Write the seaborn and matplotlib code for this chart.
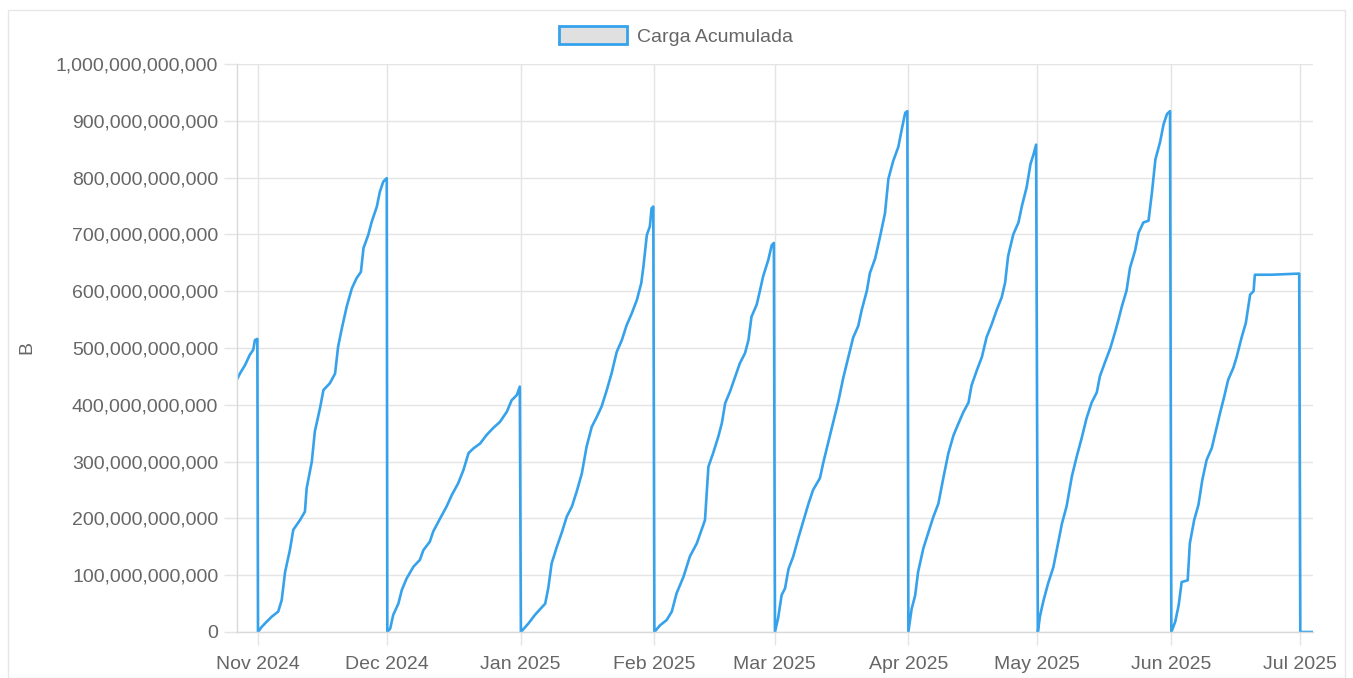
import numpy as np
import pandas as pd
import matplotlib
matplotlib.use("Agg")
import matplotlib.pyplot as plt
import matplotlib.ticker as mticker
from matplotlib.patches import Patch, Rectangle
import seaborn as sns

# values: days since the 1st of each month, load in billions
oct_days = [26.15, 26.8, 28.0, 29.1, 29.9, 30.3, 30.85]
oct_vals = [445, 455, 470, 488, 497, 514, 516]

nov_days = [0, 0.86, 2, 3.2, 4.7, 5.5, 6.3, 7.4, 8.2, 9.75, 10.9, 11.3, 12.5, 13.2, 14.4, 15.2,
            16.7, 17.9, 18.6, 19.4, 20.6, 21.8, 22.9, 23.9, 24.5, 25.6, 26.4, 27.6, 28.3, 29.1, 29.9]
nov_vals = [0, 9, 18, 27, 36, 56, 106, 144, 180, 197, 212, 253, 300, 353, 394, 426,
            438, 455, 502, 532, 573, 605, 623, 634, 676, 699, 722, 749, 775, 793, 799]

dec_days = [0.03, 0.7, 1.4, 2.6, 3.4, 4.5, 6.1, 7.6, 8.4, 9.9, 10.7, 12.3, 13.8, 15, 16.5, 17.7,
            18.9, 20, 21.6, 23.1, 24.6, 26.2, 27.8, 28.9, 30.1, 30.8]
dec_vals = [0, 6, 30, 50, 74, 94, 115, 127, 144, 159, 177, 200, 221, 241, 262, 285,
            315, 323, 332, 347, 359, 370, 388, 408, 417, 432]

jan_days = [0.05, 1.8, 3.3, 5.7, 6.4, 7.2, 8.4, 9.5, 10.7, 11.9, 13, 14.2, 15.3, 16.5, 17.7,
            18.8, 20, 21.1, 22.3, 23.5, 24.6, 25.8, 27, 28, 28.5, 29.3, 30, 30.4, 30.8]
jan_vals = [0, 15, 30, 50, 77, 121, 150, 174, 203, 221, 247, 279, 326, 361, 379,
            397, 426, 455, 493, 514, 540, 561, 585, 614, 643, 699, 714, 746, 749]

feb_days = [0.05, 1.4, 2.9, 4.1, 5.2, 6.8, 8.3, 9.9, 11, 11.8, 12.6, 13.7, 14.9, 15.7, 16.5,
            17.6, 18.8, 19.9, 21.1, 21.9, 22.6, 23.8, 24.6, 25.3, 26.5, 27.3, 27.8]
feb_vals = [0, 12, 21, 36, 68, 97, 133, 156, 180, 197, 291, 315, 344, 367, 403,
            423, 449, 473, 491, 514, 555, 576, 602, 626, 655, 681, 685]

mar_days = [0.05, 0.8, 1.6, 2.4, 3.2, 4.3, 5.5, 6.6, 7.8, 8.9, 10.5, 11.3, 12.4, 13.6, 14.8,
            15.9, 17.1, 18.2, 19.4, 20.2, 21.4, 22.1, 23.3, 24.4, 25.6, 26.4, 27.5, 28.7,
            29.5, 30.3, 30.8]
mar_vals = [0, 25, 65, 77, 111, 133, 166, 194, 225, 250, 271, 299, 333, 370, 407,
            447, 484, 518, 539, 567, 601, 632, 657, 694, 737, 798, 829, 854,
            885, 914, 917]

apr_days = [0.03, 0.8, 1.6, 2.3, 3.5, 4.7, 5.8, 7, 8.2, 9.3, 10.5, 11.6, 12.8, 14, 14.7,
            15.9, 17.1, 18.2, 19.4, 20.5, 21.7, 22.5, 23.2, 24.4, 25.6, 26.4, 27.5, 28.4,
            29.1, 29.7]
apr_vals = [0, 41, 64, 106, 147, 176, 202, 226, 273, 314, 346, 366, 387, 404, 434,
            460, 484, 519, 542, 566, 589, 615, 662, 700, 721, 750, 783, 824,
            841, 858]

may_days = [0.1, 0.6, 1.4, 2.5, 3.7, 4.5, 5.7, 6.8, 8, 9.1, 10.3, 11.4, 12.6, 13.8, 14.5,
            15.7, 16.9, 18, 18.8, 19.6, 20.7, 21.5, 22.7, 23.5, 24.6, 25.8, 26.6, 27.4,
            28.5, 29.3, 30.1, 30.8]
may_vals = [0, 28, 55, 86, 114, 145, 191, 222, 274, 308, 342, 376, 404, 422, 450,
            475, 499, 527, 549, 573, 601, 641, 672, 703, 721, 724, 774, 832,
            863, 894, 912, 917]

jun_days = [0.1, 1, 1.8, 2.5, 3.9, 4.4, 5.4, 6.4, 7.3, 8.3, 9.5, 10.3, 11.4, 12.4, 13.3,
            14.5, 15.3, 16.4, 17.4, 18.4, 19.2, 19.5, 23.4, 29.8]
jun_vals = [0, 18, 47, 88, 91, 156, 197, 224, 268, 303, 324, 350, 385, 415, 444,
            465, 485, 518, 544, 594, 600, 629, 629, 631]

jul_days = [0.05, 3]
jul_vals = [0, 0]

month_starts = ["2024-10-01", "2024-11-01", "2024-12-01", "2025-01-01", "2025-02-01",
                "2025-03-01", "2025-04-01", "2025-05-01", "2025-06-01", "2025-07-01"]
segments = [(oct_days, oct_vals), (nov_days, nov_vals), (dec_days, dec_vals),
            (jan_days, jan_vals), (feb_days, feb_vals), (mar_days, mar_vals),
            (apr_days, apr_vals), (may_days, may_vals), (jun_days, jun_vals),
            (jul_days, jul_vals)]

frames = []
for start, (d, v) in zip(month_starts, segments):
    t = pd.Timestamp(start) + pd.to_timedelta(np.array(d), unit="D")
    frames.append(pd.DataFrame({"fecha": t, "carga": np.array(v, dtype=float) * 1e9}))
df = pd.concat(frames, ignore_index=True)

sns.set_style("white")
plt.rcParams["font.family"] = ["Liberation Sans", "DejaVu Sans"]

grid_col = "#e4e4e4"
text_col = "#666666"
line_col = "#36a2eb"

fig = plt.figure(figsize=(13.53, 6.78), dpi=100)
ax = fig.add_axes([237 / 1353, 1 - 632 / 678, (1313 - 237) / 1353, (632 - 64) / 678])

sns.lineplot(data=df, x="fecha", y="carga", ax=ax, color=line_col, linewidth=1.9,
             sort=False, estimator=None)

ax.set_xlim(pd.Timestamp("2024-10-27 03:00"), pd.Timestamp("2025-07-04"))
ax.set_ylim(0, 1e12)
ax.yaxis.set_major_locator(mticker.MultipleLocator(1e11))
ax.yaxis.set_major_formatter(mticker.FuncFormatter(lambda v, p: f"{v:,.0f}"))

ticks = pd.date_range("2024-11-01", "2025-07-01", freq="MS")
ax.set_xticks(ticks)
ax.set_xticklabels([t.strftime("%b %Y") for t in ticks])

ax.grid(True, color=grid_col, linewidth=1)
ax.tick_params(axis="both", colors=grid_col, labelcolor=text_col, labelsize=14,
               length=9.5, width=1, left=True, bottom=True)
ax.tick_params(axis="y", pad=4)
ax.tick_params(axis="x", pad=8)
for s in ["top", "right"]:
    ax.spines[s].set_visible(False)
for s in ["left", "bottom"]:
    ax.spines[s].set_color("#d9d9d9")
    ax.spines[s].set_linewidth(1)

ax.set_xlabel("")
ax.set_ylabel("B", color=text_col, fontsize=14)
ax.yaxis.set_label_coords(-(237 - 35) / (1313 - 237), 0.5)

handle = Patch(facecolor="#e0e0e0", edgecolor=line_col, linewidth=2)
fig.legend([handle], ["Carga Acumulada"], loc="center", bbox_to_anchor=(676 / 1353, 1 - 36 / 678),
           frameon=False, fontsize=14, labelcolor=text_col, handlelength=3.5,
           handleheight=1.0, handletextpad=0.55)

fig.patches.append(Rectangle((8 / 1353, 0), (1345 - 8) / 1353, 1 - 10 / 678,
                             transform=fig.transFigure, fill=False,
                             edgecolor="#e6e6e6", linewidth=1))

fig.savefig("out.png", dpi=100)
